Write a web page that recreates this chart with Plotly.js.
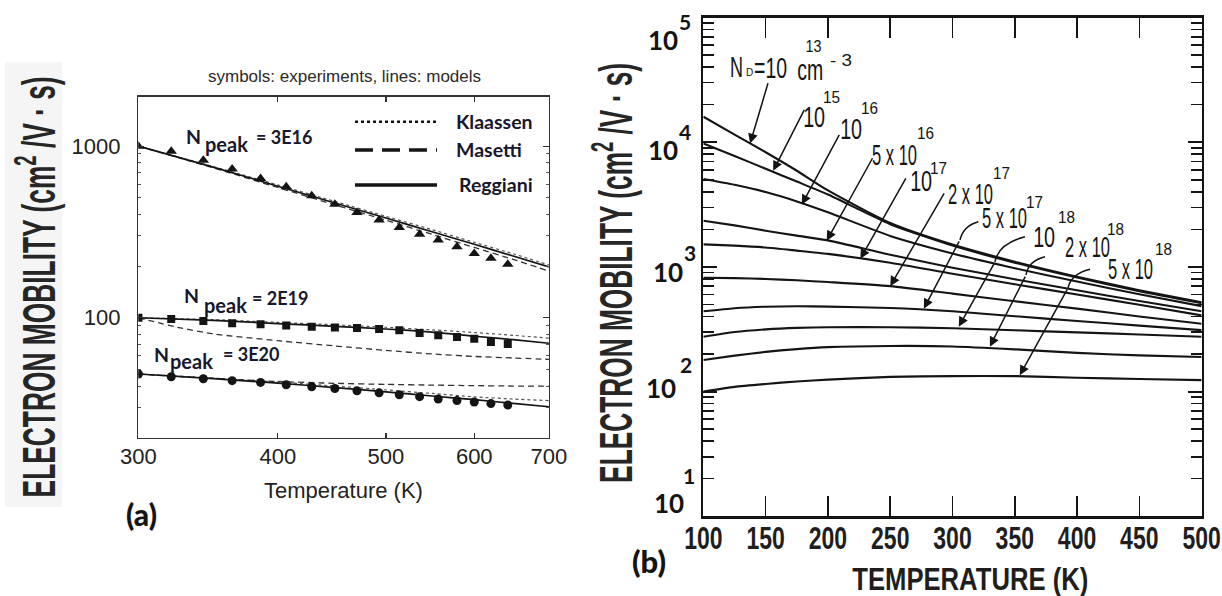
<!DOCTYPE html>
<html>
<head>
<meta charset="utf-8">
<script src="https://cdn.plot.ly/plotly-3.0.1.min.js"></script>
<style>
  html, body { margin: 0; padding: 0; background: #ffffff; }
  #chart { width: 1222px; height: 596px; }
</style>
</head>
<body>
<div id="chart"></div>
<script>
// ---------- Panel (a): experiments (symbols) and three mobility models (lines) ----------
const tempExp = [300, 321, 343, 364, 386, 407, 429, 450, 471, 493, 514, 536, 557, 579, 600, 621, 643];
const mobExp3E16 = [1000, 935, 828, 735, 648, 580, 514, 458, 411, 371, 336, 307, 284, 259, 237, 222, 205];
const mobExp2E19 = [100, 98.3, 95.7, 92.8, 91.5, 90.0, 88.7, 87.8, 87.1, 86.1, 84.6, 81.5, 79.0, 77.2, 75.5, 72.1, 70.2];
const mobExp3E20 = [47.0, 45.3, 44.1, 43.0, 42.0, 40.7, 39.6, 38.7, 37.5, 36.5, 35.6, 34.7, 33.6, 32.9, 32.3, 31.6, 31.0];

const tempModel = [300, 350, 400, 450, 500, 550, 600, 650, 700];
const klaassen3E16 = [1000, 760, 594, 476, 390, 326, 275, 236, 203];
const masetti3E16 = [1000, 748, 574, 455, 370, 306, 257, 219, 187];
const reggiani3E16 = [1000, 755, 584, 466, 381, 317, 268, 229, 198];

const klaassen2E19 = [100, 97.5, 94, 91, 88, 85, 82, 79, 76];
const tempMasetti2E19 = [300, 325, 350, 400, 450, 500, 550, 600, 650, 700];
const masetti2E19 = [100, 88, 80.5, 73.5, 68.5, 64.5, 61.5, 59.5, 58.3, 57.2];
const reggiani2E19 = [100, 96.5, 92.5, 89, 86, 82.5, 78, 74.5, 71];

const klaassen3E20 = [47, 44.5, 42.2, 40.0, 38.0, 36.2, 34.6, 33.6, 32.9];
const masetti3E20 = [47, 44.3, 42.5, 41.5, 40.9, 40.5, 40.2, 40.0, 40.0];
const reggiani3E20 = [47, 44.2, 41.6, 39.2, 37.0, 35.0, 33.3, 31.7, 30.3];

const nPeakLabels = ['3E16', '2E19', '3E20'];
const modelNames = ['Klaassen', 'Masetti', 'Reggiani'];
const tickTempA = [300, 400, 500, 600, 700];
const tickMobA = [100, 1000];

// ---------- Panel (b): mobility vs temperature for donor densities ----------
const tempB = [100, 125, 150, 175, 200, 250, 300, 350, 400, 450, 500];
const nd1e13 = [16000, 11500, 8300, 5900, 4100, 2250, 1510, 1100, 834, 650, 520];
const nd1e15 = [9770, 7750, 6120, 4830, 3800, 2200, 1480, 1080, 820, 638, 512];
const nd1e16 = [5060, 4550, 3980, 3350, 2740, 1770, 1280, 975, 762, 603, 484];
const nd5e16 = [2344, 2150, 1950, 1780, 1630, 1250, 985, 795, 648, 532, 440];
const nd1e17 = [1515, 1480, 1430, 1350, 1270, 1080, 880, 725, 600, 497, 408];
const nd2e17 = [818, 812, 800, 780, 755, 700, 610, 530, 462, 400, 350];
const nd5e17 = [440, 466, 479, 483, 480, 468, 440, 402, 368, 338, 311];
const nd1e18 = [275, 300, 315, 324, 328, 328, 322, 310, 298, 287, 275];
const nd2e18 = [179, 194, 208, 219, 227, 232, 230, 218, 204, 195, 189];
const nd5e18 = [100, 109, 115, 120.5, 124.5, 131, 133, 133, 129, 126, 123.5];

const ndMantissa = ['', '', '', '5 x ', '', '2 x ', '5 x ', '', '2 x ', '5 x '];
const ndExponent = ['13', '15', '16', '16', '17', '17', '17', '18', '18', '18'];
const tickTempB = [100, 150, 200, 250, 300, 350, 400, 450, 500];
const decadeExponents = ['5', '4', '3', '2', '1'];

// arrows: head on a curve, tail under its label
const arrowTipT = [137.5, 156, 179, 199, 226, 250, 277, 305, 330, 354];
const arrowTipMob = [9770, 5890, 3160, 1620, 1160, 700, 462, 331, 229, 135];
const arrowTailT = [152.2, 181.6, 209.7, 236.4, 263.2, 294, 306, 334.1, 359, 392.7];
const arrowTailMob = [30480, 18660, 11780, 7640, 5280, 4000, 1648, 1091, 859, 676];

// ---------- helpers ----------
const W = 1222, H = 596;
const px = x => x / W;
const py = y => 1 - y / H;
const ARIAL = 'Liberation Sans, Arial, sans-serif';
const NARROW = 'Liberation Sans Narrow, Arial Narrow, sans-serif';
const CAL = 'Lato, Open Sans, sans-serif';
const INK = '#141414';
const NAVY = '#17172e';

function line(x, y, dash, width, color, xa, ya) {
  return { x, y, type: 'scatter', mode: 'lines', xaxis: xa, yaxis: ya, hoverinfo: 'skip',
    line: { dash, width, color, shape: 'spline', smoothing: 0.6 }, showlegend: false };
}
function pts(x, y, symbol, size) {
  return { x, y, type: 'scatter', mode: 'markers', xaxis: 'x', yaxis: 'y', hoverinfo: 'skip',
    marker: { symbol, size, color: INK }, showlegend: false };
}
// empty carrier so that an overlay axis holding the minor ticks is drawn
function axisCarrier(xa, ya) {
  return { x: [], y: [], type: 'scatter', mode: 'lines', xaxis: xa, yaxis: ya, hoverinfo: 'skip', showlegend: false };
}

const traces = [
  line(tempModel, klaassen3E16, 'dot', 1.2, '#555', 'x', 'y'),
  line(tempModel, masetti3E16, '6px,4px', 1.3, '#333', 'x', 'y'),
  line(tempModel, reggiani3E16, 'solid', 1.7, INK, 'x', 'y'),
  line(tempModel, klaassen2E19, 'dot', 1.2, '#555', 'x', 'y'),
  line(tempMasetti2E19, masetti2E19, '6px,4px', 1.3, '#333', 'x', 'y'),
  line(tempModel, reggiani2E19, 'solid', 1.7, INK, 'x', 'y'),
  line(tempModel, klaassen3E20, 'dot', 1.2, '#555', 'x', 'y'),
  line(tempModel, masetti3E20, '6px,4px', 1.3, '#333', 'x', 'y'),
  line(tempModel, reggiani3E20, 'solid', 1.7, INK, 'x', 'y'),
  pts(tempExp, mobExp3E16, 'triangle-up', 10),
  pts(tempExp, mobExp2E19, 'square', 8),
  pts(tempExp, mobExp3E20, 'circle', 9),
  axisCarrier('x', 'y3'),
  axisCarrier('x2', 'y4')
];
[nd1e13, nd1e15, nd1e16, nd5e16, nd1e17, nd2e17, nd5e17, nd1e18, nd2e18, nd5e18].forEach(series => {
  traces.push(line(tempB, series, 'solid', 2.1, INK, 'x2', 'y2'));
});

// ---------- annotations ----------
const ann = [];
const squeeze = [];   // [annotation index, set width in px]
function txt(x, y, text, size, family, opts = {}) {
  const a = { xref: 'paper', yref: 'paper', x: px(x), y: py(y), text, showarrow: false,
    xanchor: opts.xanchor || 'center', yanchor: 'middle',
    font: { family, size, color: opts.color || INK, weight: opts.weight || 400 } };
  if (opts.angle !== undefined) a.textangle = opts.angle;
  ann.push(a);
  if (opts.width) squeeze.push([ann.length - 1, opts.width]);
  return ann.length - 1;
}

// panel (a)
txt(344, 77, 'symbols: experiments, lines: models', 17, ARIAL, { color: '#2a2a2a' });
const legendY = [121.7, 149.3, 184.3];
const legendX = [454, 454, 457];
modelNames.forEach((m, i) => txt(legendX[i], legendY[i], m, 19.5, CAL, { xanchor: 'left', weight: 700, color: NAVY }));
const nPos = [
  { n: [193.5, 136.7], p: [226.5, 144], v: [284.5, 136.7] },
  { n: [191.5, 296], p: [225, 304.5], v: [280.5, 297.5] },
  { n: [161, 354], p: [191.5, 360.5], v: [251.5, 354] }
];
nPeakLabels.forEach((lab, i) => {
  const q = nPos[i];
  txt(q.n[0], q.n[1], 'N', 19.5, CAL, { weight: 700, color: NAVY });
  txt(q.p[0], q.p[1], 'peak', 20, CAL, { weight: 700, color: NAVY });
  txt(q.v[0], q.v[1], '= ' + lab, 18, CAL, { weight: 700, color: NAVY });
});
txt(141.5, 514, '(a)', 30, CAL, { weight: 900 });
txt(343.5, 490.7, 'Temperature (K)', 22, ARIAL, { color: '#222' });
txt(35, 287.5, 'ELECTRON MOBILITY (cm<sup>2</sup> /V · s)', 46, NARROW, { weight: 700, angle: -90, color: '#262626', width: 421 });

// panel (b)
txt(970, 578.5, 'TEMPERATURE (K)', 32, NARROW, { weight: 700, color: '#1e1e1e', width: 236 });
txt(648.5, 560.5, '(b)', 31, CAL, { weight: 900 });
txt(612.5, 273, 'ELECTRON MOBILITY (cm<sup>2</sup> /V · s)', 46, NARROW, { weight: 700, angle: -90, color: '#262626', width: 420 });

// decade labels of the mobility axis in (b)
const decBase = [[662.5, 40], [662.5, 150], [667.5, 271.7], [661, 387.5], [669, 502.5]];
const decSup = [[685, 21.5], [685, 131.5], [690, 252.5], [685.5, 364.5], [688.5, 475.5]];
decadeExponents.forEach((e, i) => {
  txt(decBase[i][0], decBase[i][1], '10', 26, CAL, { weight: 700 });
  txt(decSup[i][0], decSup[i][1], e, 21, CAL, { weight: 700 });
});

// donor density labels
txt(736.7, 66.7, 'N', 29, NARROW, { width: 13 });
txt(749.5, 73, 'D', 10, NARROW);
txt(770, 67.5, '=10', 29, NARROW, { width: 33 });
txt(813.3, 46.7, ndExponent[0], 17, NARROW, { width: 16 });
txt(810, 70, 'cm', 29, NARROW, { width: 26 });
txt(840.5, 60.5, '- 3', 17, NARROW, { width: 22 });
const labBase = [null, [814, 117], [851, 129], [894.5, 155], [921, 181], [970, 193.5], [1004.5, 217.5], [1044, 237], [1087, 247.5], [1130.5, 269]];
const labSup = [null, [831, 97.5], [869, 108.5], [925.5, 133.5], [938.5, 168.5], [1001.5, 173.5], [1034, 202.5], [1066, 217.5], [1115, 229.5], [1163.5, 249.5]];
for (let i = 1; i < ndExponent.length; i++) {
  const wide = ndMantissa[i] !== '';
  txt(labBase[i][0], labBase[i][1], ndMantissa[i] + '10', 29, NARROW, { width: wide ? 45 : 22 });
  txt(labSup[i][0], labSup[i][1], ndExponent[i], 17, NARROW, { width: 17 });
}

arrowTipT.forEach((t, i) => {
  ann.push({ xref: 'x2', yref: 'y2', axref: 'x2', ayref: 'y2',
    x: t, y: Math.log10(arrowTipMob[i]), ax: arrowTailT[i], ay: Math.log10(arrowTailMob[i]),
    text: '', showarrow: true, arrowhead: 2, arrowsize: 1.3, arrowwidth: 1.5, arrowcolor: INK, standoff: 0 });
});

// ---------- shapes: legend samples, label hooks, pale backing ----------
const shapes = [
  { type: 'rect', xref: 'paper', yref: 'paper', x0: px(5), x1: px(62), y0: py(507), y1: py(62),
    fillcolor: '#f5f5f5', line: { width: 0 }, layer: 'below' },
  { type: 'line', xref: 'paper', yref: 'paper', x0: px(355), x1: px(437), y0: py(121.7), y1: py(121.7),
    line: { dash: 'dot', width: 2.5, color: INK } },
  { type: 'line', xref: 'paper', yref: 'paper', x0: px(355), x1: px(437), y0: py(150), y1: py(150),
    line: { dash: '18px,9px', width: 3.5, color: INK } },
  { type: 'line', xref: 'paper', yref: 'paper', x0: px(355), x1: px(437), y0: py(185), y1: py(185),
    line: { width: 3.5, color: INK } }
];
const hooks = [
  [[978.3, 221.7], [963, 226], [960, 240]],
  [[1025, 236.7], [998, 244], [995, 262]],
  [[1045, 256.7], [1028, 261], [1026, 275]],
  [[1090, 269.3], [1071, 274], [1068, 288]]
];
hooks.forEach(h => {
  const p = h.map(q => px(q[0]).toFixed(5) + ',' + py(q[1]).toFixed(5));
  shapes.push({ type: 'path', xref: 'paper', yref: 'paper', path: `M${p[0]} Q${p[1]} ${p[2]}`,
    line: { width: 1.5, color: INK } });
});

function minorLog(decades, lo, hi) {
  const v = [];
  decades.forEach(d => { for (let k = 2; k <= 9; k++) { const t = k * d; if (t > lo && t < hi) v.push(t); } });
  return v;
}

const rangeMobA = [1.301, 3.288];
const rangeMobB = [1, 5];
const domA = [py(437.7), py(96.7)];
const domB = [py(516.2), py(17.5)];
const layout = {
  width: W, height: H,
  margin: { l: 0, r: 0, t: 0, b: 0 },
  paper_bgcolor: '#ffffff', plot_bgcolor: 'rgba(0,0,0,0)',
  showlegend: false,
  xaxis: {
    domain: [px(138.3), px(549)], anchor: 'y', type: 'log',
    range: [Math.log10(299.9), Math.log10(700.1)],
    tickvals: tickTempA, ticktext: tickTempA.map(String),
    ticks: 'inside', ticklen: 5, tickwidth: 1.2, tickcolor: '#333',
    showline: true, linecolor: '#333', linewidth: 1.4, mirror: 'ticks',
    showgrid: false, zeroline: false, ticklabelstandoff: -2, ticklabeloverflow: 'allow',
    tickfont: { family: ARIAL, size: 22, color: '#222' }
  },
  yaxis: {
    domain: domA, anchor: 'x', type: 'log',
    range: rangeMobA,
    tickvals: tickMobA, ticktext: tickMobA.map(String),
    ticks: 'inside', ticklen: 6, tickwidth: 1.2, tickcolor: '#333',
    showline: true, linecolor: '#333', linewidth: 1.4, mirror: 'ticks',
    showgrid: false, zeroline: false, ticklabelstandoff: 12,
    tickfont: { family: ARIAL, size: 22, color: '#222' }
  },
  // minor ticks of the (a) mobility axis
  yaxis3: {
    domain: domA, anchor: 'x', overlaying: 'y', type: 'log',
    range: rangeMobA, tickvals: minorLog([10, 100, 1000], 20, 1940),
    showticklabels: false, ticks: 'inside', ticklen: 3, tickwidth: 1, tickcolor: '#555',
    showline: false, mirror: 'ticks', showgrid: false, zeroline: false
  },
  xaxis2: {
    domain: [px(703.3), px(1201.7)], anchor: 'y2',
    range: [99.9, 500.1],
    tickvals: tickTempB, ticktext: tickTempB.map(String),
    ticks: 'inside', ticklen: 20, tickwidth: 1.6, tickcolor: INK,
    showline: true, linecolor: INK, linewidth: 2.6, mirror: 'ticks',
    showgrid: false, zeroline: false, ticklabelstandoff: -8, ticklabeloverflow: 'allow',
    tickfont: { family: NARROW, size: 32, color: '#1e1e1e', weight: 700 }
  },
  yaxis2: {
    domain: domB, anchor: 'x2', type: 'log',
    range: rangeMobB,
    tickvals: [10, 100, 1000, 10000, 100000],
    showticklabels: false,
    ticks: 'inside', ticklen: 14, tickwidth: 2, tickcolor: INK,
    showline: true, linecolor: INK, linewidth: 2.6, mirror: 'ticks',
    showgrid: false, zeroline: false
  },
  // minor ticks of the (b) mobility axis
  yaxis4: {
    domain: domB, anchor: 'x2', overlaying: 'y2', type: 'log',
    range: rangeMobB, tickvals: minorLog([10, 100, 1000, 10000], 10, 100000),
    showticklabels: false, ticks: 'inside', ticklen: 11, tickwidth: 1.6, tickcolor: INK,
    showline: false, mirror: 'ticks', showgrid: false, zeroline: false
  },
  annotations: ann,
  shapes
};

// set the condensed lettering to its measured width
function squeezeText(el, width) {
  if (!el) return;
  el.setAttribute('textLength', width.toFixed(1));
  el.setAttribute('lengthAdjust', 'spacingAndGlyphs');
}

const gd = document.getElementById('chart');
Plotly.newPlot(gd, traces, layout, { staticPlot: true, displayModeBar: false }).then(() => {
  squeeze.forEach(([i, w]) => {
    squeezeText(gd.querySelector(`.annotation[data-index="${i}"] text.annotation-text`), w);
  });
  gd.querySelectorAll('.x2tick text').forEach(t => squeezeText(t, t.getComputedTextLength() * 0.72));
});
</script>
</body>
</html>
